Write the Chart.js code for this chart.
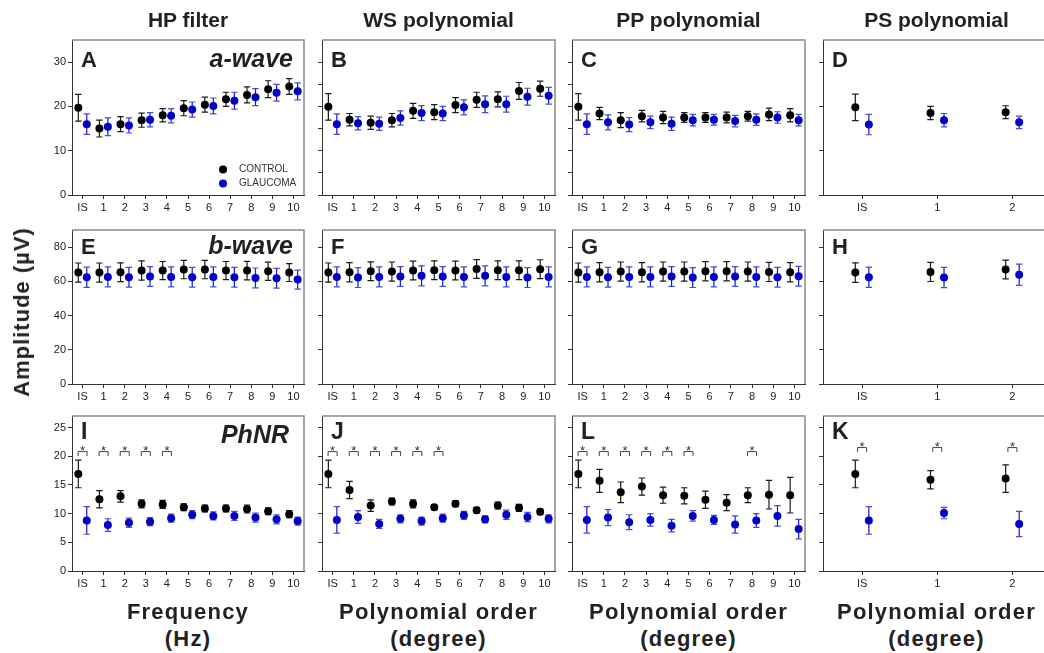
<!DOCTYPE html>
<html><head><meta charset="utf-8">
<script src="https://cdn.jsdelivr.net/npm/chart.js@4.4.0/dist/chart.umd.min.js"></script>
<style>
html,body{margin:0;padding:0;background:#fff;}
#wrap{position:relative;width:1044px;height:653px;overflow:hidden;font-family:"Liberation Sans",Arial,sans-serif;color:#222;}
canvas{position:absolute;}
.t{position:absolute;font-weight:bold;white-space:nowrap;transform:translate(-50%,-50%);line-height:1;}
</style></head><body><div id="wrap"></div>
<script>
// ---- categories & labels ----
const catsFull = ['IS','1','2','3','4','5','6','7','8','9','10'];
const catsPS = ['IS','1','2'];
const seriesNames = ['CONTROL','GLAUCOMA'];
const columnTitles = ['HP filter','WS polynomial','PP polynomial','PS polynomial'];
const xTitleLine1 = ['Frequency','Polynomial order','Polynomial order','Polynomial order'];
const xTitleLine2 = ['(Hz)','(degree)','(degree)','(degree)'];
const yTitle = 'Amplitude (\u00B5V)';
const waveNames = ['a-wave','b-wave','PhNR'];
const panelLetters = [['A','B','C','D'],['E','F','G','H'],['I','J','L','K']];

// ---- tick values ----
const yTicksA10 = [0,10,20,30];
const yTicksA5 = [0,5,10,15,20,25,30];
const yTicksB = [0,20,40,60,80];
const yTicksP = [0,5,10,15,20,25];
const yMaxRows = [35,90,27];

// ---- a-wave ----
const A_ctrl = [19.7,15.0,16.0,16.9,18.0,19.6,20.4,21.6,22.6,23.9,24.5];
const A_ctrlErr = [3.0,1.9,1.7,1.6,1.5,1.7,1.7,1.6,1.8,1.9,1.8];
const A_glau = [16.0,15.4,15.7,17.0,17.9,19.3,20.1,21.3,22.1,23.1,23.4];
const A_glauErr = [2.3,2.0,1.7,1.6,1.6,1.7,1.8,1.9,1.9,1.9,1.9];

const B_ctrl = [19.9,17.0,16.3,16.9,19.0,18.7,20.3,21.5,21.6,23.5,24.0];
const B_ctrlErr = [3.0,1.4,1.5,1.5,1.7,1.7,1.7,1.7,1.7,1.9,1.7];
const B_glau = [16.0,16.2,16.1,17.4,18.5,18.4,19.8,20.5,20.5,22.2,22.4];
const B_glauErr = [2.3,1.5,1.5,1.6,1.7,1.6,1.7,1.9,1.8,1.9,1.9];

const C_ctrl = [19.9,18.4,16.9,17.8,17.5,17.5,17.5,17.5,17.8,18.2,18.0];
const C_ctrlErr = [3.0,1.4,1.7,1.3,1.4,1.1,1.1,1.2,1.1,1.4,1.5];
const C_glau = [16.0,16.4,15.9,16.4,16.1,16.9,17.0,16.7,17.0,17.5,16.9];
const C_glauErr = [2.3,1.7,1.6,1.4,1.5,1.3,1.2,1.3,1.3,1.3,1.3];

const D_ctrl = [19.8,18.5,18.7];
const D_ctrlErr = [3.0,1.5,1.45];
const D_glau = [15.9,16.9,16.4];
const D_glauErr = [2.3,1.5,1.4];

// ---- b-wave ----
const E_ctrl = [65.1,65.1,65.3,66.3,66.3,66.9,66.9,66.3,66.3,65.9,65.1];
const E_ctrlErr = [5.6,5.6,5.5,5.6,5.3,5.4,5.4,5.3,5.4,5.3,5.2];
const E_glau = [62.4,62.6,62.4,62.8,62.6,62.4,62.6,62.4,62.0,61.8,61.0];
const E_glauErr = [5.9,5.8,5.8,5.8,5.8,5.8,5.8,5.8,5.8,5.8,5.6];

const F_ctrl = [65.1,65.3,65.9,65.7,66.3,66.5,66.3,67.2,66.5,66.5,67.1];
const F_ctrlErr = [5.6,5.6,5.5,5.6,5.5,5.5,5.5,5.5,5.5,5.5,5.5];
const F_glau = [62.6,62.2,62.6,62.8,63.2,62.8,62.6,63.2,62.6,62.2,62.6];
const F_glauErr = [5.8,5.8,5.8,5.8,5.8,5.8,5.8,5.8,5.8,5.8,5.8];

const G_ctrl = [65.1,65.3,65.7,65.3,65.7,65.7,65.9,65.9,65.7,65.5,65.3];
const G_ctrlErr = [5.6,5.6,5.6,5.6,5.6,5.6,5.6,5.6,5.6,5.6,5.6];
const G_glau = [62.6,62.4,62.6,62.6,62.8,62.2,62.6,62.8,62.6,62.4,63.0];
const G_glauErr = [5.8,5.8,5.8,5.8,5.8,5.8,5.8,5.8,5.8,5.8,5.8];

const H_ctrl = [65.1,65.5,66.9];
const H_ctrlErr = [5.7,5.6,5.5];
const H_glau = [62.4,62.2,63.8];
const H_glauErr = [5.9,5.9,6.2];

// ---- PhNR ----
const I_ctrl = [16.9,12.5,13.0,11.7,11.6,11.1,10.9,10.9,10.8,10.4,9.9];
const I_ctrlErr = [2.4,1.5,1.0,0.7,0.7,0.6,0.6,0.6,0.7,0.6,0.6];
const I_glau = [8.8,8.0,8.4,8.6,9.2,9.8,9.6,9.6,9.3,9.0,8.7];
const I_glauErr = [2.4,1.1,0.8,0.7,0.7,0.7,0.7,0.8,0.8,0.8,0.7];
const I_sig = [0,1,2,3,4];

const J_ctrl = [16.9,14.1,11.4,12.1,11.7,11.1,11.7,10.6,11.4,11.0,10.3];
const J_ctrlErr = [2.4,1.5,1.0,0.6,0.7,0.4,0.5,0.5,0.6,0.6,0.5];
const J_glau = [8.9,9.4,8.2,9.1,8.7,9.2,9.7,9.0,9.8,9.4,9.1];
const J_glauErr = [2.3,1.1,0.8,0.7,0.7,0.7,0.7,0.6,0.8,0.8,0.7];
const J_sig = [0,1,2,3,4,5];

const L_ctrl = [16.9,15.7,13.7,14.7,13.2,13.1,12.4,11.9,13.2,13.3,13.2];
const L_ctrlErr = [2.4,2.0,1.8,1.5,1.4,1.4,1.5,1.4,1.3,2.5,3.1];
const L_glau = [8.9,9.3,8.5,8.9,7.9,9.6,8.9,8.1,8.8,9.6,7.3];
const L_glauErr = [2.3,1.4,1.3,1.1,1.1,0.9,0.8,1.5,1.2,1.8,1.7];
const L_sig = [0,1,2,3,4,5,8];

const K_ctrl = [16.9,15.9,16.1];
const K_ctrlErr = [2.4,1.6,2.4];
const K_glau = [8.8,10.1,8.2];
const K_glauErr = [2.4,1.0,2.2];
const K_sig = [0,1,2];

// ---- layout ----
const colLeft = [72,322,572,823];
const colWidth = [232,233,233,227];
const rowTop = [40,230,416];
const rowHeight = [155,154,155];
const letterBase = [27,24,23];
const letterSize = [22,22,23];
const waveBase = [27,24,27];
const waveRight = [11,11,15];
const sigY = [20.8,20.8,20.8,21.5];

const panels = [
 {row:0,col:0,cats:catsFull,c:A_ctrl,ce:A_ctrlErr,g:A_glau,ge:A_glauErr,yt:yTicksA10,legend:true},
 {row:0,col:1,cats:catsFull,c:B_ctrl,ce:B_ctrlErr,g:B_glau,ge:B_glauErr,yt:yTicksA5},
 {row:0,col:2,cats:catsFull,c:C_ctrl,ce:C_ctrlErr,g:C_glau,ge:C_glauErr,yt:yTicksA5},
 {row:0,col:3,cats:catsPS,c:D_ctrl,ce:D_ctrlErr,g:D_glau,ge:D_glauErr,yt:yTicksA10},
 {row:1,col:0,cats:catsFull,c:E_ctrl,ce:E_ctrlErr,g:E_glau,ge:E_glauErr,yt:yTicksB},
 {row:1,col:1,cats:catsFull,c:F_ctrl,ce:F_ctrlErr,g:F_glau,ge:F_glauErr,yt:yTicksB},
 {row:1,col:2,cats:catsFull,c:G_ctrl,ce:G_ctrlErr,g:G_glau,ge:G_glauErr,yt:yTicksB},
 {row:1,col:3,cats:catsPS,c:H_ctrl,ce:H_ctrlErr,g:H_glau,ge:H_glauErr,yt:yTicksB},
 {row:2,col:0,cats:catsFull,c:I_ctrl,ce:I_ctrlErr,g:I_glau,ge:I_glauErr,yt:yTicksP,sig:I_sig},
 {row:2,col:1,cats:catsFull,c:J_ctrl,ce:J_ctrlErr,g:J_glau,ge:J_glauErr,yt:yTicksP,sig:J_sig},
 {row:2,col:2,cats:catsFull,c:L_ctrl,ce:L_ctrlErr,g:L_glau,ge:L_glauErr,yt:yTicksP,sig:L_sig},
 {row:2,col:3,cats:catsPS,c:K_ctrl,ce:K_ctrlErr,g:K_glau,ge:K_glauErr,yt:yTicksP,sig:K_sig}
];

const FONT = '"Liberation Sans", Arial, sans-serif';
const wrap = document.getElementById('wrap');
const CTRL_COLOR = '#000000', GLAU_COLOR = '#0000c8';

const decor = {
  id:'decor',
  beforeDatasetsDraw(chart){
    const ctx = chart.ctx, x = chart.scales.x, y = chart.scales.y;
    chart.data.datasets.forEach(ds=>{
      ctx.save();
      ctx.lineWidth = 1.2;
      ds.data.forEach((pt,i)=>{
        const px = x.getPixelForValue(pt.x);
        const y1 = y.getPixelForValue(pt.y + ds.err[i]);
        const y2 = y.getPixelForValue(pt.y - ds.err[i]);
        ctx.strokeStyle = ds.errColor;
        ctx.beginPath();
        ctx.moveTo(px,y1); ctx.lineTo(px,y2);
        ctx.stroke();
        ctx.strokeStyle = ds.capColor;
        ctx.beginPath();
        ctx.moveTo(px-3.2,y1); ctx.lineTo(px+3.2,y1);
        ctx.moveTo(px-3.2,y2); ctx.lineTo(px+3.2,y2);
        ctx.stroke();
      });
      ctx.restore();
    });
  },
  afterDraw(chart){
    const ctx = chart.ctx, a = chart.chartArea, x = chart.scales.x, y = chart.scales.y;
    const p = chart.config.options.panel;
    ctx.save();
    // top & right frame
    ctx.strokeStyle = '#8a8a8a'; ctx.lineWidth = 1.5;
    ctx.beginPath(); ctx.moveTo(a.left, a.top); ctx.lineTo(a.right, a.top); ctx.lineTo(a.right, a.bottom); ctx.stroke();
    // panel letter
    ctx.fillStyle = '#222'; ctx.textBaseline = 'alphabetic'; ctx.textAlign = 'left';
    ctx.font = 'bold ' + letterSize[p.row] + 'px ' + FONT;
    ctx.fillText(panelLetters[p.row][p.col], a.left + 9, a.top + letterBase[p.row]);
    if (p.col === 0) {
      ctx.textAlign = 'right';
      ctx.font = 'italic bold 25px ' + FONT;
      ctx.fillText(waveNames[p.row], a.right - waveRight[p.row], a.top + waveBase[p.row]);
    }
    // significance brackets
    if (p.sig) {
      ctx.strokeStyle = '#444'; ctx.lineWidth = 1; ctx.fillStyle = '#333';
      ctx.font = '13px ' + FONT; ctx.textAlign = 'center'; ctx.textBaseline = 'alphabetic';
      const yy = y.getPixelForValue(sigY[p.col]);
      p.sig.forEach(i=>{
        const cx = x.getPixelForValue(i);
        const x1 = cx - 4.5, x2 = cx + 4.5;
        ctx.beginPath(); ctx.moveTo(x1, yy+4.5); ctx.lineTo(x1, yy); ctx.lineTo(x2, yy); ctx.lineTo(x2, yy+4.5); ctx.stroke();
        ctx.fillText('*', cx, yy + 3);
      });
    }
    // legend
    if (p.legend) {
      const rows = [a.bottom - 25.5, a.bottom - 11.6];
      chart.data.datasets.forEach((ds,k)=>{
        ctx.fillStyle = ds.backgroundColor;
        ctx.beginPath(); ctx.arc(a.right - 81, rows[k], 4, 0, Math.PI*2); ctx.fill();
        ctx.fillStyle = '#333'; ctx.font = '10px ' + FONT; ctx.textAlign = 'left'; ctx.textBaseline = 'middle';
        ctx.fillText(ds.label, a.right - 65, rows[k]);
      });
    }
    ctx.restore();
  }
};

function makePanel(p){
  const padL = 40, padR = 6, padT = 12, padB = 30;
  const L = colLeft[p.col], T = rowTop[p.row], W = colWidth[p.col], H = rowHeight[p.row];
  const cv = document.createElement('canvas');
  cv.width = W + padL + padR; cv.height = H + padT + padB;
  cv.style.left = (L - padL) + 'px'; cv.style.top = (T - padT) + 'px';
  wrap.appendChild(cv);
  const ps = p.cats.length === 3;
  p.off = ps ? 0.09 : 0.2;
  const xr = ps ? [-0.52, 2.5] : [-0.5, 10.5];
  new Chart(cv, {
    type:'scatter',
    data:{datasets:[
      {label:seriesNames[0], data:p.c.map((v,i)=>({x:i-p.off, y:v})), err:p.ce, errColor:'#1a1a1a', capColor:'#1a1a1a',
       backgroundColor:CTRL_COLOR, pointRadius:4, borderWidth:0, pointHoverRadius:4},
      {label:seriesNames[1], data:p.g.map((v,i)=>({x:i+p.off, y:v})), err:p.ge, errColor:'#1515c8', capColor:'#4a4ad8',
       backgroundColor:GLAU_COLOR, pointRadius:4, borderWidth:0, pointHoverRadius:4}
    ]},
    options:{
      panel:p,
      responsive:false, animation:false, devicePixelRatio:1, events:[],
      layout:{padding:{left:0, right:padR, top:padT, bottom:0}},
      plugins:{legend:{display:false}, tooltip:{enabled:false}},
      scales:{
        x:{type:'linear', min:xr[0], max:xr[1],
           afterBuildTicks:s=>{ s.ticks = p.cats.map((c,i)=>({value:i})); },
           afterFit:s=>{ s.height = padB; },
           ticks:{callback:(v)=>p.cats[v], font:{size:11, family:FONT}, color:'#222', padding:2, maxRotation:0, autoSkip:false},
           grid:{drawOnChartArea:false, tickLength:4, color:'#333'},
           border:{color:'#333', width:1}},
        y:{type:'linear', min:0, max:yMaxRows[p.row],
           afterBuildTicks:s=>{ s.ticks = p.yt.map(v=>({value:v})); },
           afterFit:s=>{ s.width = padL; },
           ticks:{display:p.col===0, font:{size:11, family:FONT}, color:'#222', padding:2},
           grid:{drawOnChartArea:false, tickLength:4, color:'#333'},
           border:{color:'#333', width:1}}
      }
    },
    plugins:[decor]
  });
}
panels.forEach(makePanel);

// ---- HTML titles ----
function addText(txt, cx, cy, size, extra){
  const d = document.createElement('div');
  d.className = 't'; d.textContent = txt;
  d.style.left = cx + 'px'; d.style.top = cy + 'px'; d.style.fontSize = size + 'px';
  if (extra) Object.assign(d.style, extra);
  wrap.appendChild(d);
}
const colCenter = colLeft.map((l,i)=> l + colWidth[i]/2);
columnTitles.forEach((t,i)=> addText(t, colCenter[i], 19, 21));
xTitleLine1.forEach((t,i)=> addText(t, colCenter[i], 612, 22, {letterSpacing:'1.2px'}));
xTitleLine2.forEach((t,i)=> addText(t, colCenter[i], 639, 22, {letterSpacing:'1.2px'}));
addText(yTitle, 22, 312, 22, {transform:'translate(-50%,-50%) rotate(-90deg)', letterSpacing:'1px'});
</script>
</body></html>
